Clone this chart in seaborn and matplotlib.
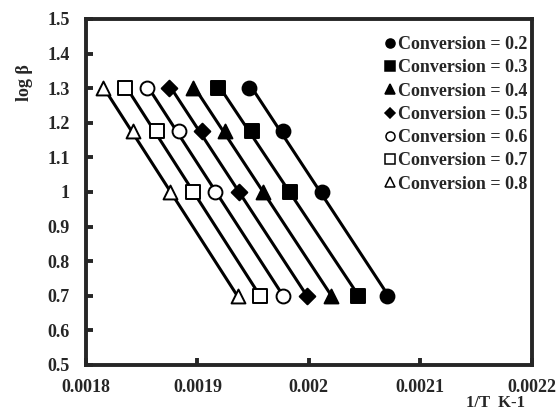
import numpy as np
import pandas as pd
import seaborn as sns
import matplotlib.pyplot as plt
from matplotlib.lines import Line2D
from matplotlib.ticker import FuncFormatter, MultipleLocator

sns.set_style("ticks")
plt.rcParams['font.family'] = ['Liberation Serif', 'DejaVu Serif']
plt.rcParams['font.weight'] = 'bold'

# log(heating rate) for 5, 10, 15, 20 K/min
log_beta = [1.301, 1.176, 1.0, 0.699]

conversions = ["0.2", "0.3", "0.4", "0.5", "0.6", "0.7", "0.8"]
inv_T = {
    "0.2": [0.001946, 0.001977, 0.002012, 0.002070],
    "0.3": [0.001918, 0.001949, 0.001983, 0.002044],
    "0.4": [0.001896, 0.001925, 0.001959, 0.002020],
    "0.5": [0.0018745, 0.001904, 0.001937, 0.001998],
    "0.6": [0.001855, 0.001883, 0.001916, 0.001977],
    "0.7": [0.001835, 0.0018635, 0.001896, 0.001956],
    "0.8": [0.001815, 0.0018425, 0.001875, 0.001936],
}
markers = {"0.2": "o", "0.3": "s", "0.4": "^", "0.5": "D",
           "0.6": "o", "0.7": "s", "0.8": "^"}
filled = {"0.2": True, "0.3": True, "0.4": True, "0.5": True,
          "0.6": False, "0.7": False, "0.8": False}

df = pd.DataFrame([(c, x, y) for c in conversions for x, y in zip(inv_T[c], log_beta)],
                  columns=["conv", "invT", "logb"])

fig = plt.figure(figsize=(5.59, 4.11), dpi=100)
ax = fig.add_axes([0.154, 0.112, 0.797, 0.842])

fs = 13
handles = []
for c in conversions:
    d = df[df.conv == c]
    m = markers[c]
    ms = 8 if m == "D" else 10
    fc = "black" if filled[c] else "white"
    sns.regplot(data=d, x="invT", y="logb", ax=ax, ci=None, marker=m,
                line_kws=dict(color="black", lw=2.2, zorder=2),
                scatter_kws=dict(s=ms ** 2, facecolors=fc, edgecolors="black",
                                 linewidths=1.4, alpha=1, zorder=3))
    handles.append(Line2D([], [], ls="", marker=m, markersize=5 if m == "D" else 6.5,
                          markerfacecolor=fc, markeredgecolor="black",
                          markeredgewidth=1.1, label="Conversion = " + c))

ax.set_xlim(0.0018, 0.0022)
ax.set_ylim(0.5, 1.5)
ax.xaxis.set_major_locator(MultipleLocator(0.0001))
ax.yaxis.set_major_locator(MultipleLocator(0.1))
fmt = FuncFormatter(lambda v, p: "%g" % round(v, 6))
ax.xaxis.set_major_formatter(fmt)
ax.yaxis.set_major_formatter(fmt)
ax.tick_params(direction="in", length=5, width=2.8, labelsize=fs, pad=12)
ax.tick_params(axis="x", pad=10)
for s in ax.spines.values():
    s.set_linewidth(2.8)
    s.set_visible(True)

ax.set_ylabel("log β", fontsize=fs, fontweight="bold")
ax.yaxis.set_label_coords(-0.119, 0.815)
ax.set_xlabel("1/T  K-1", fontsize=12, fontweight="bold")
ax.xaxis.set_label_coords(0.92, -0.086)

leg = ax.legend(handles=handles, loc="upper right", bbox_to_anchor=(1.0, 0.964),
                frameon=False, fontsize=fs, handlelength=0.6, handletextpad=0.15,
                labelspacing=0.35, borderaxespad=0, borderpad=0.25)
for t in leg.get_texts():
    t.set_fontweight("bold")

fig.savefig("out.png", dpi=100)
